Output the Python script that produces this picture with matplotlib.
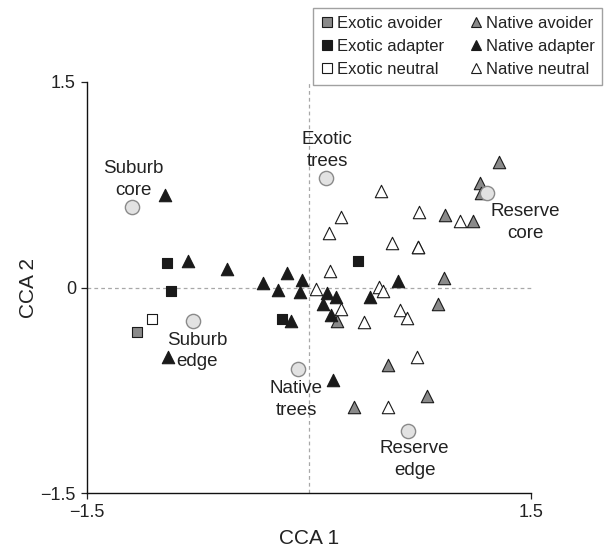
import matplotlib
matplotlib.use("Agg")
import matplotlib.pyplot as plt
from matplotlib.lines import Line2D

plt.rcParams['font.family'] = ['Liberation Sans', 'DejaVu Sans']

# species scores (CCA 1, CCA 2) by origin / response group
exotic_avoider_x = [-1.164]
exotic_avoider_y = [-0.326]

exotic_adapter_x = [-0.957, -0.935, -0.185, 0.333]
exotic_adapter_y = [0.177, -0.027, -0.229, 0.192]

exotic_neutral_x = [-1.063]
exotic_neutral_y = [-0.229]

native_avoider_x = [1.286, 1.155, 1.160, 0.919, 1.106, 0.734, 0.914, 0.869, 0.187, 0.532, 0.795, 0.304]
native_avoider_y = [0.915, 0.761, 0.688, 0.526, 0.482, 0.294, 0.071, -0.119, -0.248, -0.569, -0.793, -0.869]

native_adapter_x = [-0.973, -0.815, -0.552, -0.313, -0.151, -0.212, -0.049, -0.061, -0.124, -0.953,
                    0.119, 0.180, 0.097, 0.149, 0.412, 0.599, 0.160]
native_adapter_y = [0.672, 0.197, 0.136, 0.034, 0.105, -0.017, 0.056, -0.034, -0.241, -0.504,
                    -0.041, -0.066, -0.119, -0.199, -0.071, 0.051, -0.674]

native_neutral_x = [0.137, 0.214, 0.142, 0.484, 0.745, 1.020, 0.559, 0.734, 0.047, 0.216, 0.374,
                    0.475, 0.502, 0.615, 0.664, 0.728, 0.536]
native_neutral_y = [0.396, 0.513, 0.119, 0.703, 0.550, 0.489, 0.323, 0.294, -0.010, -0.156, -0.253,
                    0.002, -0.022, -0.163, -0.221, -0.509, -0.869]

# site scores
site_names = ["Suburb\ncore", "Suburb\nedge", "Exotic\ntrees", "Native\ntrees", "Reserve\ncore", "Reserve\nedge"]
site_x = [-1.196, -0.782, 0.115, -0.076, 1.200, 0.667]
site_y = [0.584, -0.241, 0.798, -0.596, 0.688, -1.051]
# label offsets in points from each site marker
site_offsets = [(1, 20), (3, -22), (1, 20), (-1, -22), (28, -21), (5, -20)]

GREY = '#8a8a8a'
BLACK = '#1a1a1a'

fig = plt.figure(figsize=(6.16, 5.51), dpi=100)
ax = fig.add_axes([87/616, 1 - 493/551, (531 - 87)/616, (493 - 82)/551])

# reference lines
ax.plot([-1.5, 1.5], [0, 0], color='#a8a8a8', lw=0.9, ls=(0, (3, 2.5)), zorder=1, clip_on=False)
ax.plot([0, 0], [-1.5, 1.5], color='#a8a8a8', lw=0.9, ls=(0, (3, 2.5)), zorder=1, clip_on=False)

tri = 80
sq = 62
ax.scatter(native_avoider_x, native_avoider_y, marker='^', s=tri, c=GREY, edgecolors=BLACK, linewidths=0.8, zorder=3)
ax.scatter(native_neutral_x, native_neutral_y, marker='^', s=tri, c='white', edgecolors=BLACK, linewidths=0.8, zorder=3)
ax.scatter(native_adapter_x, native_adapter_y, marker='^', s=tri, c=BLACK, edgecolors=BLACK, linewidths=0.8, zorder=3)
ax.scatter(exotic_avoider_x, exotic_avoider_y, marker='s', s=sq, c=GREY, edgecolors=BLACK, linewidths=0.8, zorder=3)
ax.scatter(exotic_neutral_x, exotic_neutral_y, marker='s', s=sq, c='white', edgecolors=BLACK, linewidths=0.8, zorder=3)
ax.scatter(exotic_adapter_x, exotic_adapter_y, marker='s', s=sq, c=BLACK, edgecolors=BLACK, linewidths=0.8, zorder=3)

ax.scatter(site_x, site_y, marker='o', s=105, c='#e2e2e2', edgecolors='#8a8a8a', linewidths=1.0, zorder=4)
for name, x, y, off in zip(site_names, site_x, site_y, site_offsets):
    ax.annotate(name, (x, y), xytext=off, textcoords='offset points', ha='center', va='center',
                multialignment='center', fontsize=13.5, color='#222222', linespacing=1.35, zorder=5)

ax.set_xlim(-1.5, 1.5)
ax.set_ylim(-1.5, 1.5)
ax.set_xticks([-1.5, 1.5])
ax.set_yticks([-1.5, 0, 1.5])
ax.set_xticklabels(['\u22121.5', '1.5'])
ax.set_yticklabels(['\u22121.5', '0', '1.5'])
ax.tick_params(direction='out', length=4, width=0.9, labelsize=13, colors='#222222', pad=4)
for s in ['top', 'right']:
    ax.spines[s].set_visible(False)
for s in ['left', 'bottom']:
    ax.spines[s].set_linewidth(1.0)
    ax.spines[s].set_color('#111111')

ax.set_xlabel('CCA 1', fontsize=15, color='#222222', labelpad=6)
ax.set_ylabel('CCA 2', fontsize=15, color='#222222', labelpad=2)

handles = [
    Line2D([], [], ls='none', marker='s', ms=7, mfc=GREY, mec=BLACK, mew=0.8),
    Line2D([], [], ls='none', marker='s', ms=7, mfc=BLACK, mec=BLACK, mew=0.8),
    Line2D([], [], ls='none', marker='s', ms=7, mfc='white', mec=BLACK, mew=0.8),
    Line2D([], [], ls='none', marker='^', ms=7, mfc=GREY, mec=BLACK, mew=0.8),
    Line2D([], [], ls='none', marker='^', ms=7, mfc=BLACK, mec=BLACK, mew=0.8),
    Line2D([], [], ls='none', marker='^', ms=7, mfc='white', mec=BLACK, mew=0.8),
]
labels = ['Exotic avoider', 'Exotic adapter', 'Exotic neutral',
          'Native avoider', 'Native adapter', 'Native neutral']
leg = fig.legend(handles, labels, ncol=2, loc='upper right', bbox_to_anchor=(602/616, 1 - 8/551),
                 fontsize=12, frameon=True, fancybox=False, handlelength=0.8, handletextpad=0.2,
                 columnspacing=1.5, labelspacing=0.5, borderpad=0.45, borderaxespad=0)
leg.get_frame().set_edgecolor('#8a8a8a')
leg.get_frame().set_linewidth(1.0)
for t in leg.get_texts():
    t.set_color('#222222')

fig.savefig('out.png', dpi=100)
